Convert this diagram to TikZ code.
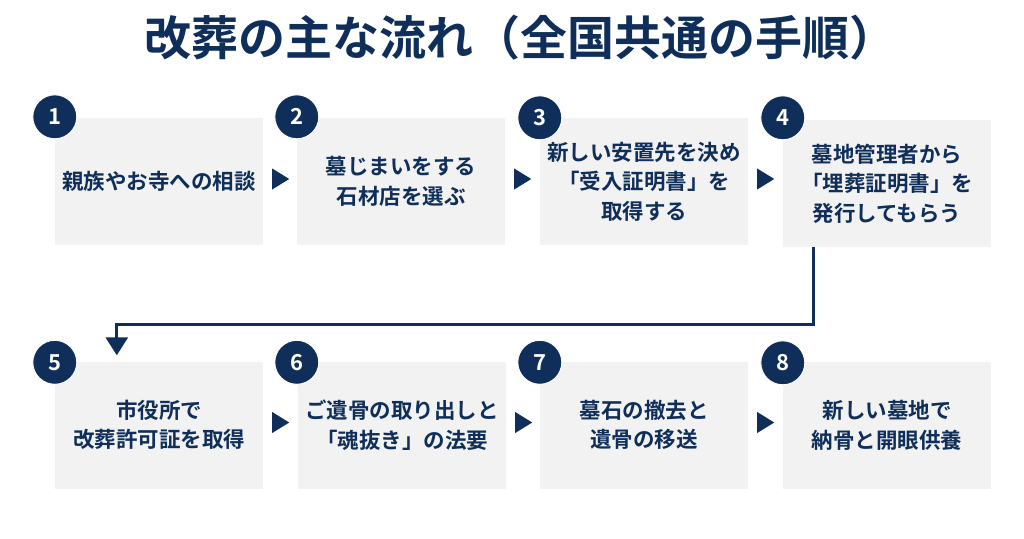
\documentclass[tikz,border=0pt]{standalone}
\usepackage{fontspec}
\newfontfamily\cjkb{Noto Sans CJK JP Bold}
\usetikzlibrary{calc,arrows.meta}
\definecolor{navy}{HTML}{0F2F5A}
\definecolor{boxgray}{HTML}{F2F2F2}
\tikzset{
  stepbox/.style={fill=boxgray, draw=none, minimum width=208pt, minimum height=127pt,
    inner sep=0pt, align=center, text=navy, font=\cjkb\fontsize{21.5}{29.5}\selectfont},
  numcirc/.style={circle, fill=navy, draw=white, line width=1pt, minimum size=44pt, inner sep=0pt,
    text=white, font=\cjkb\fontsize{22}{22}\selectfont},
  tri/.style={fill=navy},
  flowline/.style={draw=navy, line width=3pt, -{Triangle[length=18pt,width=22pt]}},
}
\newcommand{\mytri}[1]{\fill[tri] ($(#1.east)+(9pt,-8pt)$) -- ++(17pt,10.5pt) -- ++(-17pt,10.5pt) -- cycle;}
\begin{document}
\begin{tikzpicture}[x=1pt,y=-1pt]
\useasboundingbox (0,0) rectangle (1024,538);
\fill[white] (0,0) rectangle (1024,538);
\node[text=navy, font=\cjkb\fontsize{47}{47}\selectfont, text height=0.88em, text depth=0.12em, inner sep=0pt] (title) at (520,52) {改葬の主な流れ（全国共通の手順）};
% row 1
\node[stepbox] (b1) at (159,181.5) {親族やお寺への相談};
\node[stepbox] (b2) at (401,181.5) {墓じまいをする\\石材店を選ぶ};
\node[stepbox] (b3) at (644,181.5) {新しい安置先を決め\\「受入証明書」を\\取得する};
\node[stepbox] (b4) at (887,183.5) {墓地管理者から\\「埋葬証明書」を\\発行してもらう};
% row 2
\node[stepbox] (b5) at (159,425) {市役所で\\改葬許可証を取得};
\node[stepbox] (b6) at (402,425) {ご遺骨の取り出しと\\「魂抜き」の法要};
\node[stepbox] (b7) at (644,425) {墓石の撤去と\\遺骨の移送};
\node[stepbox] (b8) at (887,425.5) {新しい墓地で\\納骨と開眼供養};
% number circles
\node[numcirc] (n1) at ($(b1.north west)+(0,-1)$) {1};
\node[numcirc] (n2) at ($(b2.north west)+(0,-1)$) {2};
\node[numcirc] (n3) at ($(b3.north west)+(0,0)$) {3};
\node[numcirc] (n4) at ($(b4.north west)+(0,-2)$) {4};
\node[numcirc] (n5) at ($(b5.north west)+(0,1)$) {5};
\node[numcirc] (n6) at ($(b6.north west)+(-1,1)$) {6};
\node[numcirc] (n7) at ($(b7.north west)+(0,1)$) {7};
\node[numcirc] (n8) at ($(b8.north west)+(0,1)$) {8};
% arrowheads between boxes
\mytri{b1}
\mytri{b2}
\mytri{b3}
\mytri{b5}
\mytri{b6}
\mytri{b7}
% connector 4 -> 5
\coordinate (c1) at ($(b4.south west)+(31,0)$);
\coordinate (c2) at ($(b5.north west)+(62,-6)$);
\draw[flowline] (c1) -- ++(0,77) -| (c2);
\end{tikzpicture}
\end{document}
